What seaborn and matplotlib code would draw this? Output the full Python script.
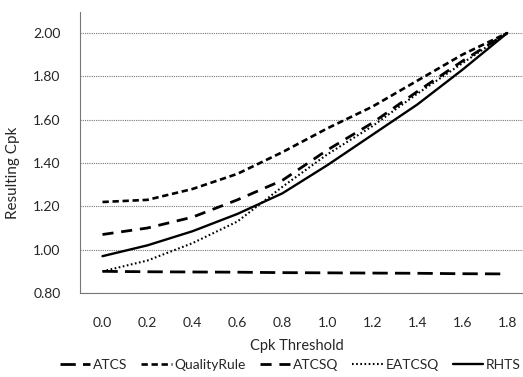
import matplotlib
matplotlib.use("Agg")
import matplotlib.pyplot as plt
import seaborn as sns
import pandas as pd

# ---- data ----
cpk_threshold = [0.0, 0.2, 0.4, 0.6, 0.8, 1.0, 1.2, 1.4, 1.6, 1.8]
atcs = [0.90, 0.898, 0.897, 0.896, 0.894, 0.893, 0.892, 0.891, 0.889, 0.888]
quality_rule = [1.22, 1.23, 1.28, 1.35, 1.45, 1.56, 1.66, 1.78, 1.90, 2.00]
atcsq = [1.07, 1.10, 1.15, 1.23, 1.32, 1.46, 1.585, 1.73, 1.87, 2.00]
eatcsq = [0.90, 0.95, 1.03, 1.13, 1.29, 1.44, 1.57, 1.72, 1.86, 2.00]
rhts = [0.97, 1.02, 1.085, 1.165, 1.26, 1.39, 1.53, 1.67, 1.83, 2.00]
series_names = ["ATCS", "QualityRule", "ATCSQ", "EATCSQ", "RHTS"]
y_ticks = [0.80, 1.00, 1.20, 1.40, 1.60, 1.80, 2.00]

series_values = {"ATCS": atcs, "QualityRule": quality_rule, "ATCSQ": atcsq,
                 "EATCSQ": eatcsq, "RHTS": rhts}
df = pd.DataFrame([
    {"Cpk Threshold": x, "Resulting Cpk": v, "series": s}
    for s in series_names for x, v in zip(cpk_threshold, series_values[s])
])

styles = {
    "ATCS": dict(linestyle=(0, (5.5, 2.6)), linewidth=2.0),
    "QualityRule": dict(linestyle=(0, (2.4, 1.4)), linewidth=1.9),
    "ATCSQ": dict(linestyle=(0, (4.0, 2.8)), linewidth=2.0),
    "EATCSQ": dict(linestyle=(0, (0.8, 1.2)), linewidth=1.5),
    "RHTS": dict(linestyle="-", linewidth=1.7),
}

sns.set_style("white")
plt.rcParams["font.family"] = ["Lato", "DejaVu Sans"]

fig = plt.figure(figsize=(5.23, 3.77), dpi=100)
ax = fig.add_axes([80 / 523, (377 - 293) / 377, 443 / 523, (293 - 12) / 377])

for s in series_names:
    sns.lineplot(data=df[df["series"] == s], x="Cpk Threshold", y="Resulting Cpk",
                 ax=ax, color="black", label=s, **styles[s])

ax.set_xlim(-0.098, 1.87)
ax.set_ylim(0.80, 2.097)
ax.set_yticks(y_ticks)
ax.set_yticklabels([f"{v:.2f}" for v in y_ticks], fontsize=10)
ax.set_xticks(cpk_threshold)
ax.set_xticklabels([f"{v:.1f}" for v in cpk_threshold], fontsize=10)
ax.set_xticks([x + 0.1 for x in cpk_threshold[:-1]] + [-0.1], minor=True)
ax.tick_params(axis="x", which="major", length=0, pad=17)
ax.tick_params(axis="x", which="minor", length=4, color="#777777", width=0.8, direction="out")
ax.tick_params(axis="y", which="major", length=4, color="#888888", width=0.8, pad=10)

ax.grid(True, axis="y", linestyle=(0, (1, 1)), color="#777777", linewidth=0.8)
ax.grid(False, axis="x")
for side in ["top", "right"]:
    ax.spines[side].set_visible(False)
for side in ["left", "bottom"]:
    ax.spines[side].set_linestyle((0, (1, 1)))
    ax.spines[side].set_color("#777777")
    ax.spines[side].set_linewidth(0.8)

ax.set_xlabel("Cpk Threshold", fontsize=10.5)
ax.set_ylabel("Resulting Cpk", fontsize=11)
ax.xaxis.set_label_coords(0.49, -0.165)
ax.yaxis.set_label_coords(-0.135, 0.427)

handles, labels = ax.get_legend_handles_labels()
ax.get_legend().remove()
fig.legend(handles, labels, loc="center",
           bbox_to_anchor=(0.555, (377 - 365) / 377), bbox_transform=fig.transFigure,
           ncol=5, frameon=False, fontsize=10, handlelength=2.2, handletextpad=0.2,
           columnspacing=1.0)

fig.savefig("out.png", dpi=100, facecolor="white")
